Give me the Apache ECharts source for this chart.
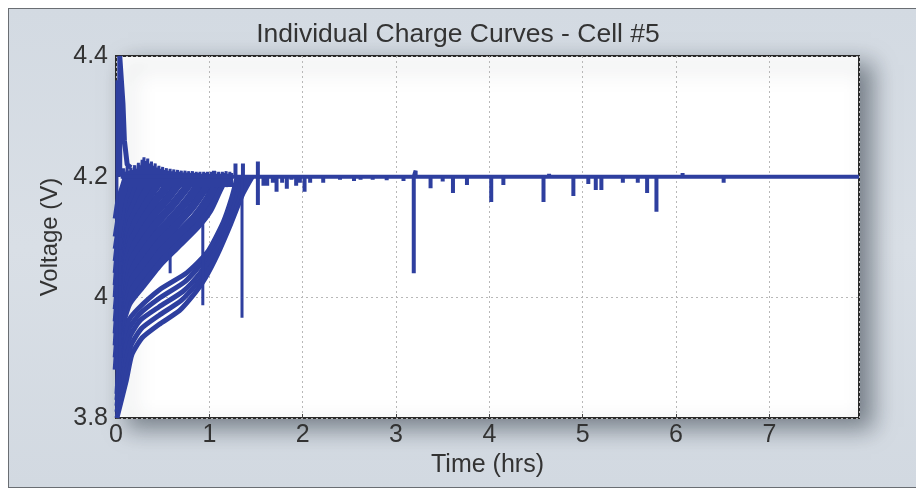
<!DOCTYPE html>
<html>
<head>
<meta charset="utf-8">
<script src="https://cdn.jsdelivr.net/npm/echarts@6/dist/echarts.min.js"></script>
<style>
html,body{margin:0;padding:0;background:#fff;}
#panel{position:absolute;left:8px;top:8px;width:920px;height:478px;border:1px solid #6a6e73;background:linear-gradient(180deg,#d3dae2 0%,#d9dfe6 50%,#d2d9e1 100%);}
#chart{position:absolute;left:0;top:0;width:916px;height:491px;}
</style>
</head>
<body>
<div id="panel"></div>
<div id="chart"></div>
<script>
// ---- data ----
const titleText = 'Individual Charge Curves - Cell #5';
const xName = 'Time (hrs)';
const yName = 'Voltage (V)';
const xTicks = [0, 1, 2, 3, 4, 5, 6, 7];
const yTicks = [3.8, 4, 4.2, 4.4];

// lower group of charge curves
const c1 = [[0.01,3.80],[0.11,3.862],[0.17,3.905],[0.28,3.933],[0.46,3.955],[0.68,3.978],[0.85,4.008],[0.96,4.033],[1.09,4.072],[1.23,4.122],[1.36,4.172],[1.46,4.2]];
const c2 = [[0.01,3.81],[0.08,3.87],[0.16,3.92],[0.27,3.948],[0.46,3.97],[0.7,3.995],[0.88,4.025],[1.0,4.05],[1.13,4.09],[1.26,4.14],[1.35,4.175],[1.42,4.2]];
const c3 = [[0.01,3.82],[0.07,3.885],[0.15,3.935],[0.26,3.962],[0.46,3.984],[0.72,4.01],[0.9,4.04],[1.03,4.07],[1.15,4.105],[1.27,4.152],[1.38,4.2]];
const c4 = [[0.01,3.83],[0.06,3.9],[0.14,3.948],[0.25,3.972],[0.46,3.998],[0.74,4.026],[0.93,4.058],[1.06,4.09],[1.17,4.122],[1.26,4.16],[1.34,4.2]];
const c5 = [[0.01,3.84],[0.05,3.915],[0.13,3.96],[0.23,3.98],[0.47,4.013],[0.76,4.041],[0.98,4.075],[1.15,4.125],[1.24,4.165],[1.3,4.2]];
// middle / upper group
const c6 = [[0.01,3.88],[0.05,3.95],[0.13,3.99],[0.27,4.018],[0.46,4.055],[0.64,4.083],[0.86,4.117],[1.0,4.145],[1.1,4.178],[1.17,4.2]];
const c7 = [[0.01,3.9],[0.05,3.965],[0.12,4.005],[0.25,4.033],[0.44,4.07],[0.62,4.098],[0.84,4.132],[0.98,4.162],[1.07,4.19],[1.1,4.2]];
const c8 = [[0.01,3.92],[0.04,3.98],[0.11,4.02],[0.24,4.048],[0.42,4.085],[0.6,4.113],[0.8,4.147],[0.94,4.178],[1.02,4.2]];
const c9 = [[0.01,3.94],[0.04,3.995],[0.1,4.035],[0.22,4.063],[0.4,4.1],[0.58,4.128],[0.77,4.162],[0.9,4.19],[0.94,4.2]];
const c10 = [[0.01,3.96],[0.04,4.01],[0.1,4.05],[0.2,4.078],[0.38,4.115],[0.55,4.143],[0.73,4.177],[0.84,4.2]];
const c11 = [[0.01,3.98],[0.04,4.025],[0.09,4.065],[0.19,4.093],[0.36,4.13],[0.52,4.158],[0.68,4.19],[0.74,4.2]];
const c12 = [[0.01,4.0],[0.03,4.04],[0.09,4.08],[0.18,4.108],[0.34,4.145],[0.49,4.173],[0.62,4.2]];
const c13 = [[0.01,4.02],[0.03,4.055],[0.08,4.095],[0.17,4.123],[0.32,4.16],[0.45,4.188],[0.51,4.2]];
const c14 = [[0.01,4.04],[0.03,4.07],[0.08,4.11],[0.16,4.138],[0.3,4.175],[0.4,4.2]];
const c15 = [[0.01,4.06],[0.03,4.085],[0.07,4.125],[0.15,4.153],[0.27,4.19],[0.31,4.2]];
const c16 = [[0.01,4.08],[0.03,4.1],[0.07,4.14],[0.14,4.168],[0.22,4.2]];
const c17 = [[0.01,4.1],[0.03,4.12],[0.07,4.155],[0.13,4.183],[0.17,4.2]];
const c18 = [[0.01,4.13],[0.04,4.16],[0.08,4.18],[0.12,4.2]];

// start-up transients near t = 0
const startLeft = [[0.01,3.80],[0.01,4.36]];
const startSpike = [[0.04,4.2],[0.04,4.4],[0.06,4.4],[0.075,4.32],[0.09,4.26],[0.12,4.22],[0.16,4.215]];

// noisy top of the constant-voltage band (upper envelope), lower edge of the band
const noiseT = [0.08,0.10,0.12,0.14,0.16,0.18,0.20,0.22,0.24,0.26,0.28,0.30,0.32,0.34,0.36,0.38,0.40,0.42,0.44,0.46,0.48,0.50,0.52,0.54,0.56,0.58,0.60,0.62,0.64,0.66,0.68,0.70,0.72,0.74,0.76,0.78,0.80,0.82,0.84,0.86,0.88,0.90,0.92,0.94,0.96,0.98,1.00,1.02,1.04,1.06,1.08,1.10,1.12,1.14,1.16,1.18,1.20,1.22,1.24];
const noiseHigh = [4.214,4.208,4.216,4.21,4.215,4.211,4.219,4.213,4.223,4.219,4.228,4.232,4.226,4.23,4.222,4.225,4.218,4.222,4.215,4.218,4.213,4.216,4.211,4.214,4.21,4.213,4.209,4.212,4.208,4.211,4.208,4.21,4.207,4.21,4.207,4.209,4.206,4.209,4.206,4.208,4.206,4.208,4.205,4.208,4.206,4.208,4.205,4.208,4.206,4.209,4.205,4.208,4.205,4.208,4.206,4.209,4.205,4.208,4.206];
const noiseLow = 4.183;

// vertical glitches inside the charge curves
const glitchT = [0.58, 0.93, 1.35];
const glitchTop = [4.075, 4.123, 4.2];
const glitchBottom = [4.04, 3.987, 3.966];

// constant-voltage line and its spikes
const cvStart = 0.05;
const cvEnd = 7.96;
const cvLevel = 4.2;
const spikeT = [1.05,1.28,1.36,1.52,1.52,1.58,1.62,1.68,1.72,1.78,1.83,1.88,1.93,1.97,2.02,2.08,2.22,2.4,2.55,2.62,2.75,2.9,3.08,3.19,3.21,3.37,3.5,3.61,3.76,4.02,4.15,4.4,4.58,4.64,4.90,5.06,5.14,5.2,5.43,5.59,5.69,5.79,6.07,6.51];
const spikeV = [4.21,4.222,4.222,4.225,4.153,4.185,4.185,4.19,4.175,4.19,4.18,4.195,4.185,4.19,4.175,4.19,4.19,4.195,4.193,4.195,4.195,4.194,4.193,4.04,4.21,4.181,4.192,4.173,4.186,4.158,4.186,4.197,4.158,4.205,4.168,4.188,4.178,4.178,4.19,4.19,4.173,4.142,4.206,4.19];

// ---- build ----
const FONT = "'Liberation Sans',Arial,Helvetica,sans-serif";
const COLOR = '#2e3f9f';
const lineSeries = (data, w, smooth) => ({
  type: 'line', data: data, symbol: 'none', showSymbol: false, silent: true,
  smooth: smooth || false, lineStyle: { color: COLOR, width: w }, z: 3
});
const lowerCurves = [c1,c2,c3,c4,c5];
const upperCurves = [c6,c7,c8,c9,c10,c11,c12,c13,c14,c15,c16,c17,c18];
const series = [];
lowerCurves.forEach(c => series.push(lineSeries(c, 5, 0.2)));
upperCurves.forEach(c => series.push(lineSeries(c, 8.5, 0.2)));
series.push(lineSeries(startLeft, 3));
series.push(lineSeries(startSpike, 5));
const noise = [];
noiseT.forEach((t, i) => { noise.push([t, noiseHigh[i]]); noise.push([t, noiseLow]); });
series.push(lineSeries(noise, 3));
glitchT.forEach((t, i) => series.push(lineSeries([[t, glitchTop[i]], [t, glitchBottom[i]]], 3)));
const cv = [[cvStart, cvLevel]];
spikeT.forEach((t, i) => { cv.push([t, cvLevel]); cv.push([t, spikeV[i]]); cv.push([t, cvLevel]); });
cv.push([cvEnd, cvLevel]);
series.push(lineSeries(cv, 4));

const chart = echarts.init(document.getElementById('chart'), null, { renderer: 'canvas' });
chart.setOption({
  animation: false,
  backgroundColor: 'transparent',
  title: {
    text: titleText, left: 453, top: 16, textAlign: 'center',
    textStyle: { fontFamily: FONT, fontSize: 26.5, fontWeight: 'normal', color: '#333' }
  },
  grid: {
    left: 116, top: 56, right: 57, bottom: 73,
    show: true, backgroundColor: '#fff', borderColor: '#2a2a2a', borderWidth: 2,
    shadowColor: 'rgba(40,50,60,0.55)', shadowBlur: 22, shadowOffsetX: 12, shadowOffsetY: 9
  },
  xAxis: {
    type: 'value', min: 0, max: cvEnd, interval: 1,
    name: xName, nameLocation: 'middle', nameGap: 32,
    nameTextStyle: { fontFamily: FONT, fontSize: 25, color: '#333' },
    axisLine: { show: false },
    axisTick: { show: true, inside: true, length: 4, lineStyle: { color: '#444' } },
    axisLabel: { showMaxLabel: false, margin: 5, fontFamily: FONT, fontSize: 25, color: '#333',
      formatter: v => (xTicks.indexOf(v) >= 0 ? String(v) : '') },
    splitLine: { show: true, lineStyle: { color: '#b8b8b8', type: [2, 3], width: 1 } }
  },
  yAxis: {
    type: 'value', min: 3.8, max: 4.4, interval: 0.2,
    name: yName, nameLocation: 'middle', nameGap: 50, nameRotate: 90,
    nameTextStyle: { fontFamily: FONT, fontSize: 24, color: '#333' },
    axisLine: { show: false },
    axisTick: { show: true, inside: true, length: 4, lineStyle: { color: '#444' } },
    axisLabel: { margin: 8, fontFamily: FONT, fontSize: 25, color: '#333',
      formatter: v => { const r = Math.round(v * 10) / 10; return yTicks.indexOf(r) >= 0 ? String(r) : ''; } },
    splitLine: { show: true, lineStyle: { color: '#b8b8b8', type: [2, 3], width: 1 } }
  },
  series: series
});
</script>
</body>
</html>
